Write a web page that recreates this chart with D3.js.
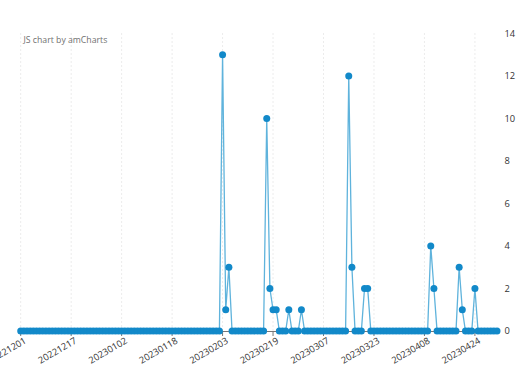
<!DOCTYPE html>
<html><head><meta charset="utf-8">
<script src="https://cdn.jsdelivr.net/npm/d3@7"></script>
<style>html,body{margin:0;padding:0;background:#fff;}svg{display:block;font-family:"Open Sans",sans-serif;}</style>
</head><body><svg id="c" width="520" height="365"></svg>
<script>
const startDate = "20221201";
const values = [
  // Dec (31)
  0,0,0,0,0,0,0,0,0,0, 0,0,0,0,0,0,0,0,0,0, 0,0,0,0,0,0,0,0,0,0, 0,
  // Jan (31)
  0,0,0,0,0,0,0,0,0,0, 0,0,0,0,0,0,0,0,0,0, 0,0,0,0,0,0,0,0,0,0, 0,
  // Feb (28)
  0,0,13,1,3,0,0,0,0,0, 0,0,0,0,0,0,10,2,1,1, 0,0,0,1,0,0,0,1,
  // Mar (31)
  0,0,0,0,0,0,0,0,0,0, 0,0,0,0,12,3,0,0,0,2, 2,0,0,0,0,0,0,0,0,0, 0,
  // Apr (30)
  0,0,0,0,0,0,0,0,0,4, 2,0,0,0,0,0,0,0,3,1, 0,0,0,2,0,0,0,0,0,0,
  // May 1
  0
];
const tickLabels = ["20221201","20221217","20230102","20230118","20230203","20230219","20230307","20230323","20230408","20230424"];
const yTicks = [0,2,4,6,8,10,12,14];
const watermark = "JS chart by amCharts";

const parse = d3.timeParse("%Y%m%d");
const dates = d3.timeDay.range(parse(startDate), d3.timeDay.offset(parse(startDate), values.length));
const data = dates.map((d,i)=>({date:d, value:values[i]}));

const svg = d3.select("#c");
const x = d3.scaleTime().domain([dates[0], dates[dates.length-1]]).range([20.7, 497]);
const y = d3.scaleLinear().domain([0,14]).range([331, 33.5]);

// vertical dotted grid
svg.append("g").selectAll("line").data(tickLabels).join("line")
  .attr("x1", d=>x(parse(d))).attr("x2", d=>x(parse(d)))
  .attr("y1", y(14)).attr("y2", y(0))
  .attr("stroke", "#d8d8d8").attr("stroke-width", 1).attr("stroke-dasharray", "1,3");

// watermark
svg.append("text").attr("x", 23.5).attr("y", 43).attr("font-size", 8.7).attr("fill", "#707070").text(watermark);

// x axis line and ticks
svg.append("line").attr("x1", 20.7).attr("x2", 497).attr("y1", y(0)+0.5).attr("y2", y(0)+0.5)
  .attr("stroke", "#777").attr("stroke-width", 1);
svg.append("g").selectAll("line").data(tickLabels).join("line")
  .attr("x1", d=>x(parse(d))).attr("x2", d=>x(parse(d)))
  .attr("y1", y(0)).attr("y2", y(0)+5).attr("stroke", "#777");
svg.append("g").selectAll("text").data(tickLabels).join("text")
  .attr("transform", d=>`translate(${x(parse(d))+3},${y(0)+6}) rotate(-30)`)
  .attr("text-anchor", "end").attr("dy", "0.7em")
  .attr("font-size", 9.3).attr("fill", "#333").text(d=>d);

// y axis labels (right)
svg.append("g").selectAll("text").data(yTicks).join("text")
  .attr("x", 504.5).attr("y", d=>y(d)).attr("dy", "0.35em")
  .attr("font-size", 9.3).attr("fill", "#333").text(d=>d);

// line
svg.append("path").datum(data)
  .attr("fill", "none").attr("stroke", "#5fb3dc").attr("stroke-width", 1.3)
  .attr("d", d3.line().x(d=>x(d.date)).y(d=>y(d.value)));

// dots
svg.append("g").selectAll("circle").data(data).join("circle")
  .attr("cx", d=>x(d.date)).attr("cy", d=>y(d.value)).attr("r", 3.5)
  .attr("fill", "#1289c9");
</script></body></html>
